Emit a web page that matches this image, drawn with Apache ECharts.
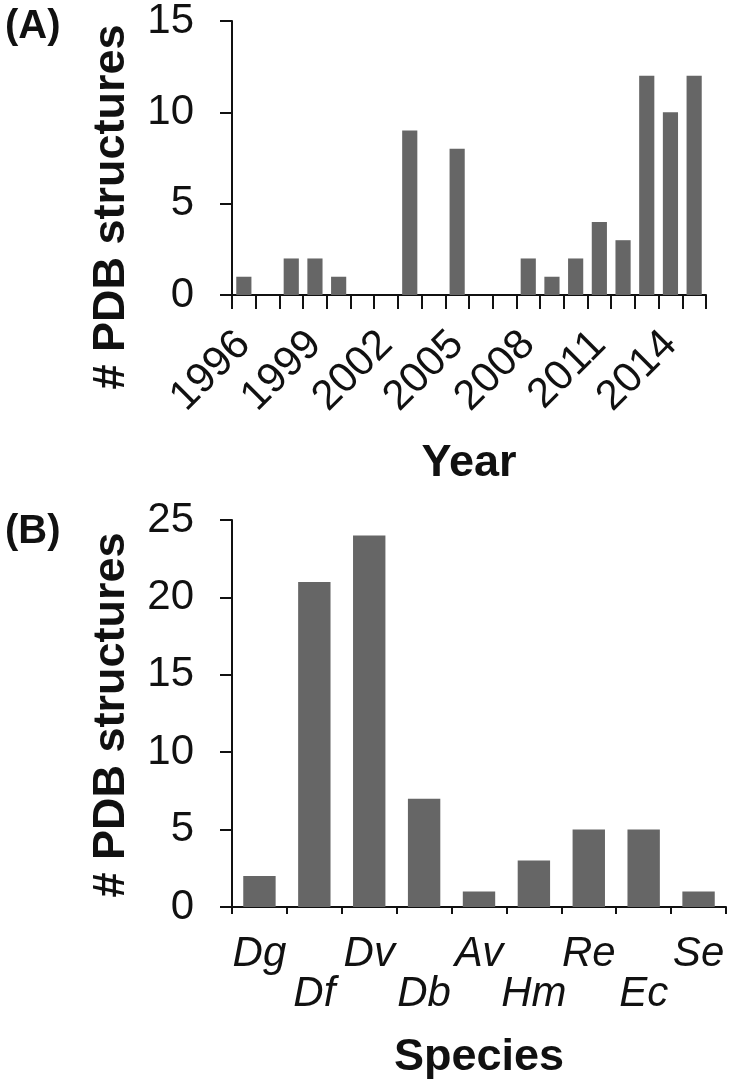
<!DOCTYPE html>
<html>
<head>
<meta charset="utf-8">
<style>
  html, body { margin: 0; padding: 0; background: #fff; }
  #chart { width: 733px; height: 1086px; }
</style>
</head>
<body>
<div id="chart"></div>
<script src="https://cdn.jsdelivr.net/npm/echarts@6/dist/echarts.min.js"></script>
<script>
// panel A: structures per year
const years = ['1996','1997','1998','1999','2000','2001','2002','2003','2004','2005',
               '2006','2007','2008','2009','2010','2011','2012','2013','2014','2015'];
const yearCounts = [1, 0, 2, 2, 1, 0, 0, 9, 0, 8, 0, 0, 2, 1, 2, 4, 3, 12, 10, 12];
// panel B: structures per species
const species = ['Dg', 'Df', 'Dv', 'Db', 'Av', 'Hm', 'Re', 'Ec', 'Se'];
const speciesCounts = [2, 21, 24, 7, 1, 3, 5, 5, 1];

const FONT = '"Liberation Sans", Arial, Helvetica, sans-serif';
const ink = '#111';
const barColor = '#666666';

const axisLine = { show: true, lineStyle: { color: ink, width: 2 } };

var myChart = echarts.init(document.getElementById('chart'));
myChart.setOption({
    animation: false,
    backgroundColor: '#fff',
    textStyle: { fontFamily: FONT },
    title: [
        { text: '(A)', left: 0, top: 2, textStyle: { fontSize: 40, fontWeight: 'bold', color: ink, fontFamily: FONT } },
        { text: '(B)', left: 0, top: 507, textStyle: { fontSize: 40, fontWeight: 'bold', color: ink, fontFamily: FONT } }
    ],
    graphic: [
        {
            type: 'text', x: 112, y: 207, rotation: Math.PI / 2,
            style: { text: '# PDB structures', fontSize: 45, fontWeight: 'bold', fill: ink,
                     fontFamily: FONT, align: 'center', verticalAlign: 'middle' }
        },
        {
            type: 'text', x: 112, y: 715, rotation: Math.PI / 2,
            style: { text: '# PDB structures', fontSize: 45, fontWeight: 'bold', fill: ink,
                     fontFamily: FONT, align: 'center', verticalAlign: 'middle' }
        }
    ],
    grid: [
        { left: 232, top: 20, width: 474, height: 275 },
        { left: 232, top: 520, width: 494, height: 387 }
    ],
    xAxis: [
        {
            gridIndex: 0,
            type: 'category',
            data: years,
            axisLine: axisLine,
            axisTick: { show: true, interval: 0, length: 14, lineStyle: { color: ink, width: 2 } },
            axisLabel: { interval: 2, rotate: 45, margin: 43, fontSize: 42, color: ink, fontFamily: FONT },
            name: 'Year',
            nameLocation: 'middle',
            nameGap: 146,
            nameTextStyle: { fontSize: 45, fontWeight: 'bold', color: ink, fontFamily: FONT }
        },
        {
            gridIndex: 1,
            type: 'category',
            data: species,
            axisLine: axisLine,
            axisTick: { show: true, interval: 0, length: 7, lineStyle: { color: ink, width: 2 } },
            axisLabel: {
                interval: 0, margin: 27, fontSize: 42, lineHeight: 40, fontStyle: 'italic',
                color: ink, fontFamily: FONT,
                formatter: function (v, i) { return i % 2 ? '\n' + v : v; }
            },
            name: 'Species',
            nameLocation: 'middle',
            nameGap: 128,
            nameTextStyle: { fontSize: 45, fontWeight: 'bold', color: ink, fontFamily: FONT }
        }
    ],
    yAxis: [
        {
            gridIndex: 0,
            type: 'value',
            min: 0, max: 15, interval: 5,
            axisLine: axisLine,
            axisTick: { show: true, length: 12, lineStyle: { color: ink, width: 2 } },
            axisLabel: { margin: 38, fontSize: 42, color: ink, fontFamily: FONT },
            splitLine: { show: false }
        },
        {
            gridIndex: 1,
            type: 'value',
            min: 0, max: 25, interval: 5,
            axisLine: axisLine,
            axisTick: { show: true, length: 12, lineStyle: { color: ink, width: 2 } },
            axisLabel: { margin: 38, fontSize: 42, color: ink, fontFamily: FONT },
            splitLine: { show: false }
        }
    ],
    series: [
        {
            name: 'year',
            type: 'bar',
            xAxisIndex: 0, yAxisIndex: 0,
            data: yearCounts,
            barCategoryGap: '36%',
            itemStyle: { color: barColor }
        },
        {
            name: 'species',
            type: 'bar',
            xAxisIndex: 1, yAxisIndex: 1,
            data: speciesCounts,
            barCategoryGap: '41%',
            itemStyle: { color: barColor }
        }
    ]
});
</script>
</body>
</html>
